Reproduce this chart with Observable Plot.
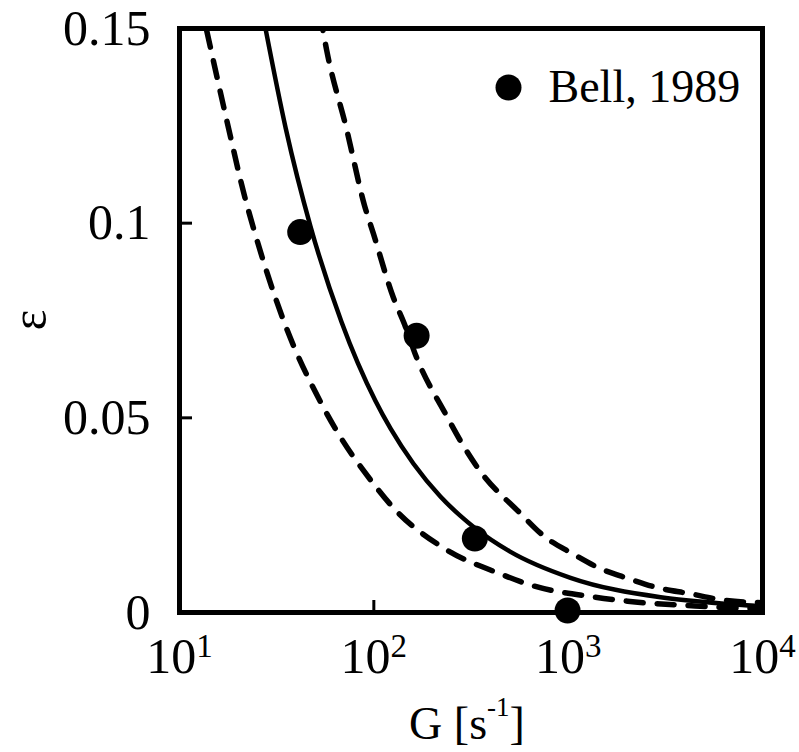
<!DOCTYPE html>
<html><head><meta charset="utf-8">
<script src="https://cdn.jsdelivr.net/npm/d3@7"></script>
<script src="https://cdn.jsdelivr.net/npm/@observablehq/plot@0.6"></script>
<style>body{margin:0;background:#fff;}</style>
</head><body><div id="chart"></div>
<script>
// Measured data (Bell, 1989)
const pointG = [41.8, 166, 331, 993];
const pointE = [0.0977, 0.0711, 0.0190, 0.0005];

// Solid model curve
const solidG = [27.7, 35.2, 47.2, 68.2, 102, 122, 160, 220, 279, 331, 500, 1028, 2991, 6610, 10000];
const solidE = [0.150, 0.1244, 0.0992, 0.0746, 0.0543, 0.0472, 0.0382, 0.0298, 0.0248, 0.0217, 0.0157, 0.0089, 0.0039, 0.0022, 0.0016];

// Lower dashed curve
const lowG = [13.8, 17.9, 21.6, 24.0, 34.3, 53.8, 64.3, 99.5, 126, 228, 449, 656, 1352, 2024, 4500, 10000];
const lowE = [0.1495, 0.1243, 0.107, 0.0988, 0.0750, 0.0536, 0.0467, 0.0331, 0.0269, 0.0166, 0.0099, 0.0069, 0.0040, 0.0029, 0.0017, 0.0009];

// Upper dashed curve
const highG = [54.5, 57.2, 72.3, 89.6, 99.5, 126, 144, 165, 234, 279, 342, 569, 747, 1054, 1432, 2047, 2918, 4266, 6077, 10000];
const highE = [0.150, 0.1444, 0.1243, 0.1045, 0.0973, 0.0809, 0.0740, 0.0658, 0.0510, 0.0441, 0.0372, 0.0254, 0.0197, 0.0151, 0.0115, 0.0087, 0.0063, 0.0048, 0.0033, 0.0025];

const xTickValues = [10, 100, 1000, 10000];
const xTickExps = ["1", "2", "3", "4"];
const yTickValues = [0, 0.05, 0.1, 0.15];
const yTickLabels = ["0", "0.05", "0.1", "0.15"];
const legendLabel = "Bell, 1989";
const xLabelBase = "G [s";
const xLabelSup = "-1";
const xLabelEnd = "]";
const yLabel = "ε";

const toRows = (gs, es) => gs.map((g, i) => ({G: g, E: es[i]}));
const points = toRows(pointG, pointE);
const solid = toRows(solidG, solidE);
const low = toRows(lowG, lowE);
const high = toRows(highG, highE);

const chart = Plot.plot({
  width: 799, height: 752,
  marginLeft: 179, marginRight: 37, marginTop: 28, marginBottom: 140,
  style: {fontFamily: "'Liberation Serif', 'Times New Roman', serif", fontSize: "50px", color: "black", background: "white"},
  x: {type: "log", domain: [10, 10000]},
  y: {domain: [0, 0.15]},
  marks: [
    Plot.line(low, {x: "G", y: "E", stroke: "black", strokeWidth: 5.5, strokeDasharray: "17,14", curve: "monotone-x", clip: true}),
    Plot.line(high, {x: "G", y: "E", stroke: "black", strokeWidth: 5.5, strokeDasharray: "17,14", strokeDashoffset: 15, curve: "monotone-x", clip: true}),
    Plot.line(solid, {x: "G", y: "E", stroke: "black", strokeWidth: 4.5, curve: "monotone-x", clip: true}),
    Plot.axisX({ticks: [100, 1000], tickSize: -12, strokeWidth: 3, text: null, label: null}),
    Plot.axisX({ticks: xTickValues, tickSize: 0, tickPadding: 25, tickFormat: d => "10^" + xTickExps[xTickValues.indexOf(d)], label: null}),
    Plot.axisY({ticks: [0.05, 0.1], tickSize: -13, strokeWidth: 3, text: null, label: null}),
    Plot.axisY({ticks: yTickValues, tickSize: 0, tickPadding: 29, tickFormat: d => yTickLabels[yTickValues.indexOf(d)], label: null}),
    Plot.frame({stroke: "black", strokeWidth: 5}),
    Plot.dot(points, {x: "G", y: "E", r: 13, fill: "black"}),
    Plot.dot([legendLabel], {frameAnchor: "top-right", dx: -254, dy: 59, r: 13, fill: "black"}),
    Plot.text([legendLabel], {text: d => d, frameAnchor: "top-right", dx: -214, dy: 59, textAnchor: "start", lineAnchor: "middle", fontSize: 46})
  ]
});

const svg = d3.select(chart);
// superscript exponents on x tick labels
svg.selectAll('g[aria-label="x-axis tick label"] text').each(function() {
  const t = d3.select(this);
  const s = t.text();
  const [base, exp] = s.split("^");
  t.text(base);
  t.append("tspan").attr("font-size", 33).attr("dy", -16).text(exp);
});
// x label
const xl = svg.append("text")
  .attr("x", 467).attr("y", 739)
  .attr("text-anchor", "middle")
  .attr("font-size", 46)
  .attr("fill", "black");
xl.append("tspan").text(xLabelBase);
xl.append("tspan").attr("font-size", 27).attr("dy", -23).text(xLabelSup);
xl.append("tspan").attr("dy", 23).text(xLabelEnd);
// y label
svg.append("text")
  .attr("transform", "translate(46,320) rotate(-90)")
  .attr("text-anchor", "middle")
  .attr("font-size", 50)
  .attr("fill", "black")
  .text(yLabel);

document.getElementById("chart").appendChild(chart);
</script>
</body></html>
